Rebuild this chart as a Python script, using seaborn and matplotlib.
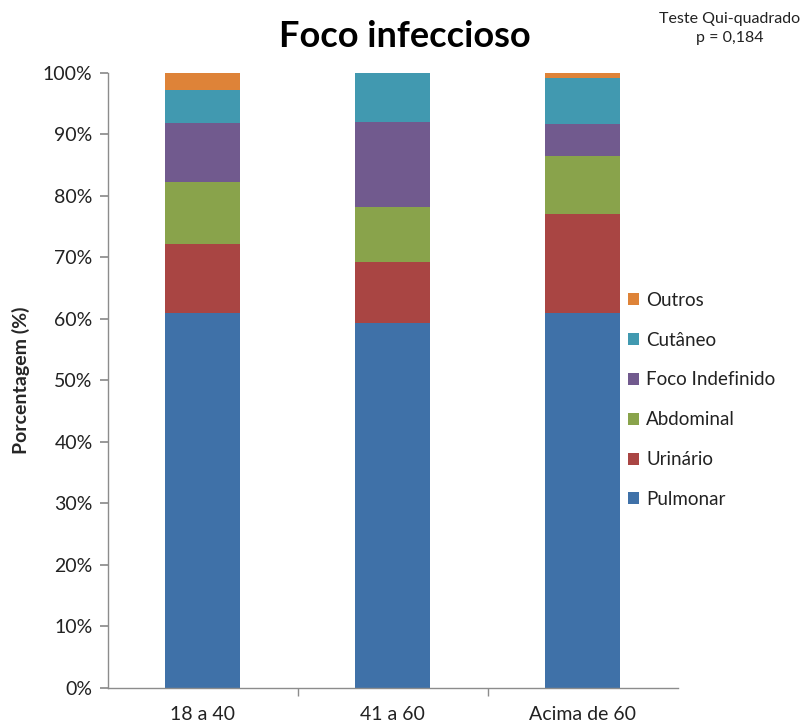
import numpy as np
import pandas as pd
import matplotlib
matplotlib.use("Agg")
import matplotlib.pyplot as plt
import seaborn as sns
from matplotlib.patches import Patch
from matplotlib.ticker import FuncFormatter

# ---- data ----
categories = ["18 a 40", "41 a 60", "Acima de 60"]
pulmonar = [60.9, 59.3, 60.9]
urinario = [11.2, 9.9, 16.2]
abdominal = [10.2, 8.9, 9.3]
foco_indefinido = [9.5, 13.8, 5.3]
cutaneo = [5.4, 8.1, 7.4]
outros = [2.8, 0.0, 0.9]
series_names = ["Pulmonar", "Urinário", "Abdominal", "Foco Indefinido", "Cutâneo", "Outros"]
series_values = [pulmonar, urinario, abdominal, foco_indefinido, cutaneo, outros]
colors = ["#3F71A8", "#A94543", "#89A34B", "#715A8E", "#4199B0", "#DE8338"]

sns.set_theme(style="white")
plt.rcParams['font.family'] = ["Lato", "DejaVu Sans"]

fig = plt.figure(figsize=(8.05, 7.26), dpi=100)
ax = fig.add_axes([0.134, 0.0528, 0.708, 0.8471])

bottom = np.zeros(len(categories))
handles = []
for name, vals, col in zip(series_names, series_values, colors):
    df = pd.DataFrame({"cat": categories, "val": vals})
    sns.barplot(data=df, x="cat", y="val", bottom=bottom, color=col,
                width=0.395, ax=ax, saturation=1, edgecolor="none", linewidth=0)
    bottom = bottom + np.array(vals)
    handles.append(Patch(facecolor=col, edgecolor="none", label=name))

ax.set_xlim(-0.5, 2.5)
ax.set_ylim(0, 100)
ax.set_yticks(np.arange(0, 101, 10))
ax.yaxis.set_major_formatter(FuncFormatter(lambda v, p: f"{int(v)}%"))
ax.set_xlabel("")
ax.set_ylabel("Porcentagem (%)", fontsize=14, fontweight="bold", labelpad=9)

for s in ["top", "right"]:
    ax.spines[s].set_visible(False)
for s in ["left", "bottom"]:
    ax.spines[s].set_color("#8C8C8C")
    ax.spines[s].set_linewidth(1.0)

ax.set_xticks([0.5, 1.5], minor=True)
ax.tick_params(axis="y", which="major", left=True, length=6, color="#8C8C8C",
               labelsize=14, labelcolor="#222222", pad=5)
ax.tick_params(axis="x", which="major", bottom=False, labelsize=14, labelcolor="#222222", pad=7)
ax.tick_params(axis="x", which="minor", bottom=True, length=6, color="#8C8C8C")
ax.grid(False)

leg = ax.legend(handles=handles[::-1], loc="center left", bbox_to_anchor=(0.912, 0.468),
                frameon=False, fontsize=13.5, handlelength=0.6, handleheight=0.6,
                handletextpad=0.4, labelspacing=1.22, borderaxespad=0, borderpad=0)
for t in leg.get_texts():
    t.set_color("#222222")

fig.text(0.503, 0.950, "Foco infeccioso", ha="center", va="center",
         fontsize=26, fontweight="bold", color="black")
fig.text(0.906, 0.961, "Teste Qui-quadrado\np = 0,184", ha="center", va="center",
         fontsize=11.5, color="#222222", linespacing=1.4)

fig.savefig("out.png", dpi=100)
